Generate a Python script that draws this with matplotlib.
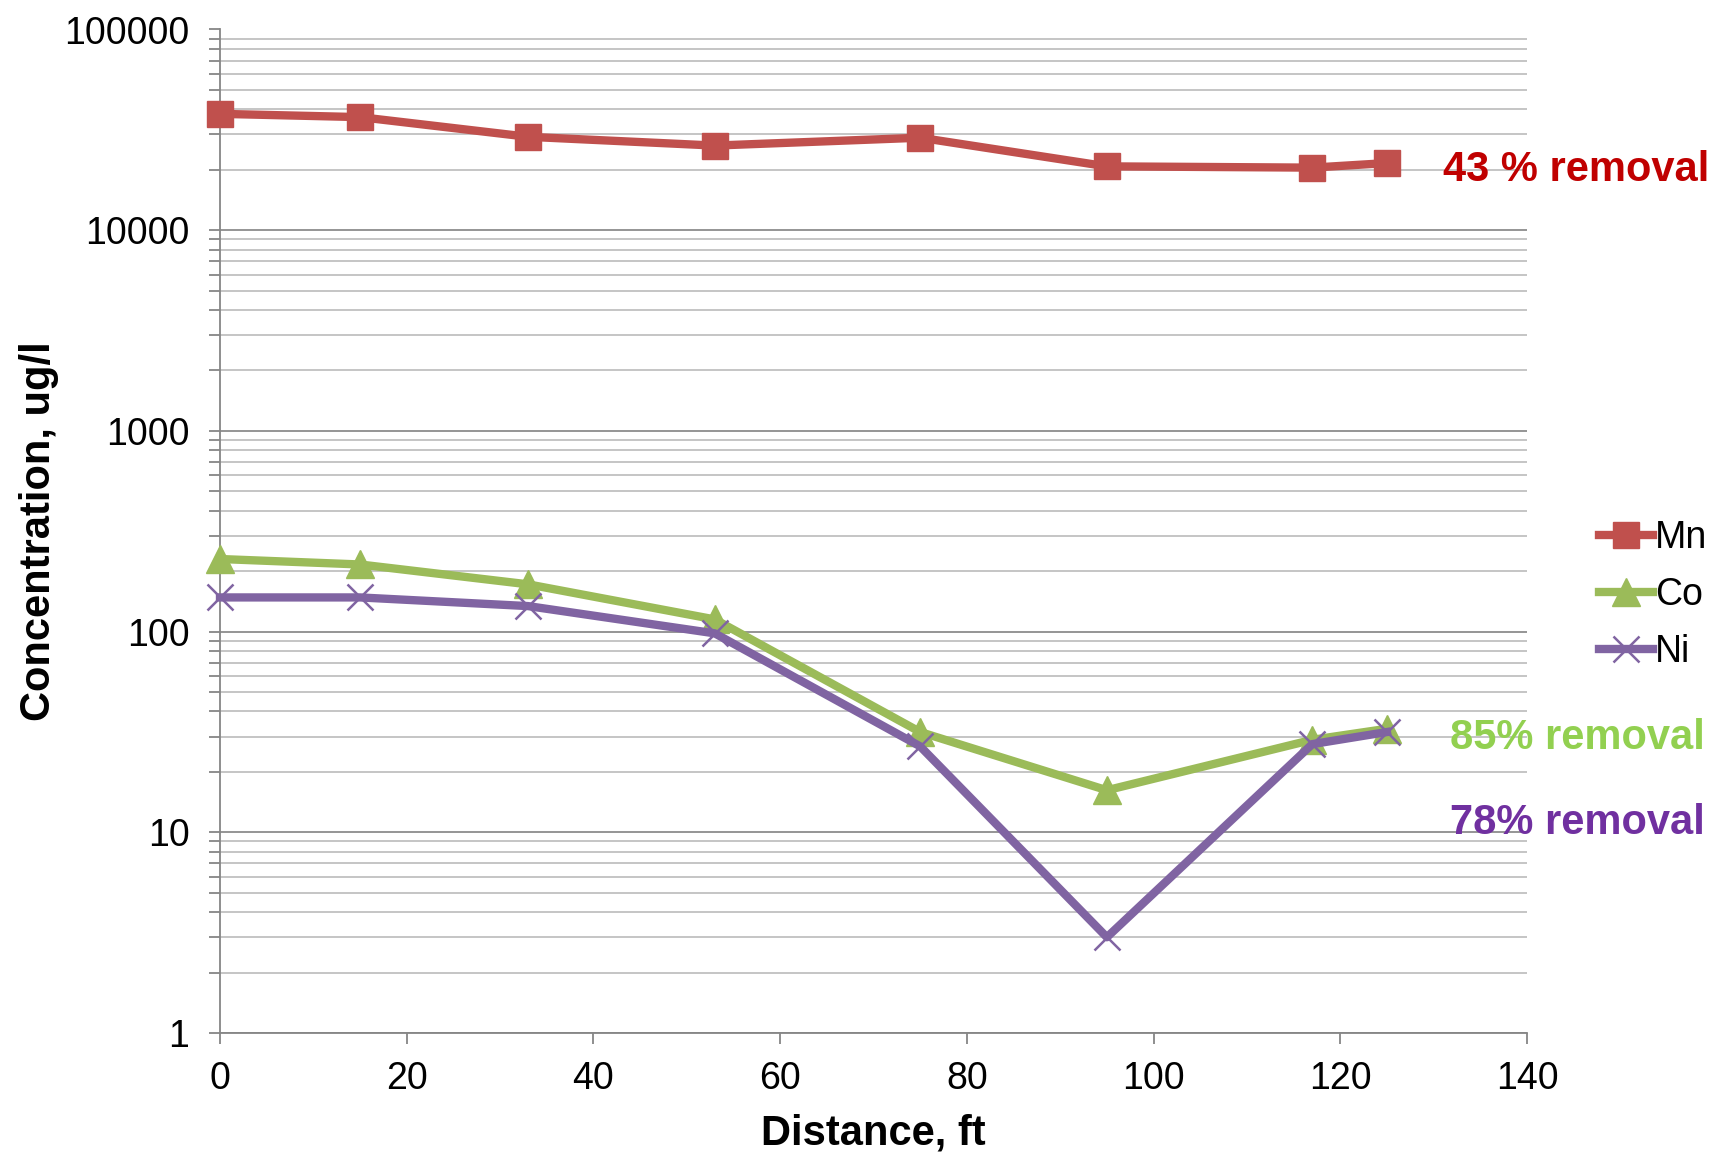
"""
Metal concentration along the flow path (log scale).
"""

import matplotlib
matplotlib.use("Agg")
import matplotlib.pyplot as plt
from matplotlib.ticker import LogLocator, FixedLocator, NullFormatter

plt.rcParams["font.family"] = ["Liberation Sans", "DejaVu Sans"]

distance = [0, 15, 33, 53, 75, 95, 117, 125]
mn = [38000, 36600, 29200, 26400, 28900, 20800, 20500, 21600]
co = [230, 216, 172, 115, 31.6, 16.2, 28.9, 32.8]
ni = [148, 148, 134, 98, 26.8, 3.0, 27.5, 31.6]

y_ticks = [1, 10, 100, 1000, 10000, 100000]
y_labels = ["1", "10", "100", "1000", "10000", "100000"]
x_ticks = [0, 20, 40, 60, 80, 100, 120, 140]

notes = [
    ("43 % removal", 131.0, 20000, "#C00000"),
    ("85% removal", 131.8, 29.6, "#92D050"),
    ("78% removal", 131.8, 11.1, "#7030A0"),
]

fig = plt.figure(figsize=(17.16, 11.54), dpi=100)
ax = fig.add_axes([220 / 1716, 1 - 1033 / 1154, (1527 - 220) / 1716, (1033 - 29.5) / 1154])

lw = 6
ax.plot(distance, mn, color="#C0504D", lw=lw, marker="s", ms=19, label="Mn", zorder=5, clip_on=False)
ax.plot(distance, co, color="#9BBB59", lw=lw, marker="^", ms=20, label="Co", zorder=4, clip_on=False)
ax.plot(distance, ni, color="#8064A2", lw=lw, marker="x", ms=19, mew=1.8, label="Ni", zorder=6, clip_on=False)

ax.set_yscale("log")
ax.set_ylim(1, 100000)
ax.set_xlim(0, 140)
ax.yaxis.set_major_locator(FixedLocator(y_ticks))
ax.set_yticklabels(y_labels)
ax.yaxis.set_minor_locator(LogLocator(base=10, subs=range(2, 10), numticks=20))
ax.yaxis.set_minor_formatter(NullFormatter())
ax.set_xticks(x_ticks)

ax.grid(axis="y", which="major", color="#8C8C8C", lw=1.3)
ax.grid(axis="y", which="minor", color="#C0C0C0", lw=1.3)
ax.set_axisbelow(True)

for s in ["top", "right"]:
    ax.spines[s].set_visible(False)
for s in ["left", "bottom"]:
    ax.spines[s].set_color("#868686")
    ax.spines[s].set_linewidth(1.3)

ax.tick_params(axis="both", which="major", labelsize=27, color="#868686", length=8, width=1.3)
ax.tick_params(axis="y", which="minor", color="#868686", length=8, width=1.3)
ax.tick_params(axis="x", pad=12)
ax.tick_params(axis="y", pad=14)

ax.set_xlabel("Distance, ft", fontsize=30, fontweight="bold", labelpad=12)
ax.set_ylabel("Concentration, ug/l", fontsize=30, fontweight="bold", labelpad=4)

for text, x, y, c in notes:
    ax.text(x, y, text, color=c, fontsize=30, fontweight="bold", va="center",
            ha="left", clip_on=False, zorder=10)

ax.legend(loc="center left", bbox_to_anchor=(1584 / 1716, 1 - 595 / 1154),
          bbox_transform=fig.transFigure, frameon=False, fontsize=27,
          handlelength=1.45, handletextpad=0.05, labelspacing=0.55, borderaxespad=0)

fig.savefig("out.png", dpi=100)
